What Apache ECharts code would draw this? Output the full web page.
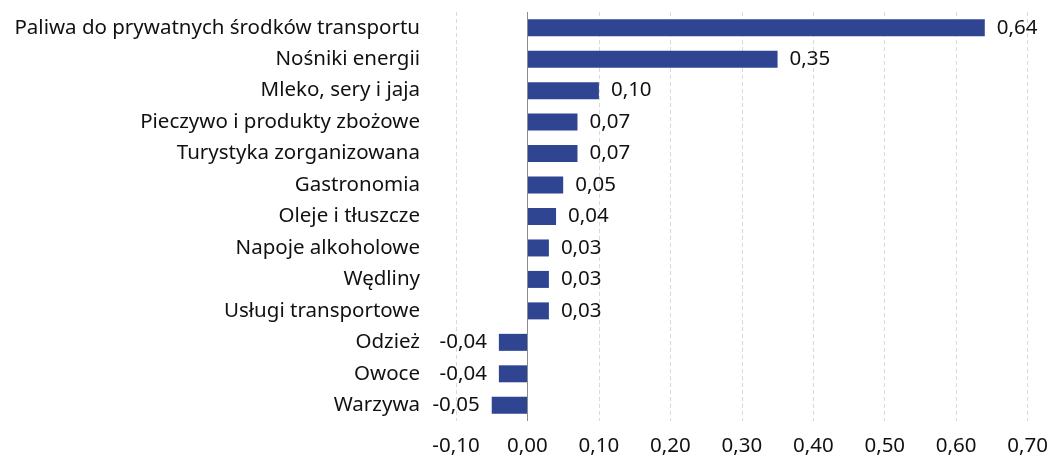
<!DOCTYPE html>
<html>
<head>
<meta charset="utf-8">
<script src="https://cdn.jsdelivr.net/npm/echarts@6/dist/echarts.min.js"></script>
<style>
html,body{margin:0;padding:0;background:#fff;}
#chart{width:1051px;height:457px;}
</style>
</head>
<body>
<div id="chart"></div>
<script>
const categories = [
  'Paliwa do prywatnych środków transportu',
  'Nośniki energii',
  'Mleko, sery i jaja',
  'Pieczywo i produkty zbożowe',
  'Turystyka zorganizowana',
  'Gastronomia',
  'Oleje i tłuszcze',
  'Napoje alkoholowe',
  'Wędliny',
  'Usługi transportowe',
  'Odzież',
  'Owoce',
  'Warzywa'
];
const values = [0.64, 0.35, 0.10, 0.07, 0.07, 0.05, 0.04, 0.03, 0.03, 0.03, -0.04, -0.04, -0.05];
const xTicks = { min: -0.1, max: 0.7, interval: 0.1 };

const FONT = 'Noto Sans';
const FS = 20.5;
const fmt = v => v.toFixed(2).replace('.', ',');

const chart = echarts.init(document.getElementById('chart'));
chart.setOption({
  animation: false,
  grid: { left: 456, right: 21, top: 12, bottom: 36, containLabel: false },
  xAxis: {
    type: 'value',
    min: xTicks.min, max: xTicks.max, interval: xTicks.interval,
    axisLine: { show: false },
    axisTick: { show: false },
    splitLine: { show: true, lineStyle: { color: '#d9d9d9', type: [4, 3], width: 1 } },
    axisLabel: {
      formatter: v => fmt(v),
      fontFamily: FONT, fontSize: FS, color: '#111', margin: 15
    }
  },
  yAxis: {
    type: 'category',
    data: categories,
    inverse: true,
    axisLine: { show: false, onZero: false },
    axisTick: { show: false },
    splitLine: { show: false },
    axisLabel: { fontFamily: FONT, fontSize: FS, color: '#111', margin: 36 }
  },
  series: [{
    type: 'bar',
    data: values.map(v => ({
      value: v,
      label: { position: v < 0 ? 'left' : 'right' }
    })),
    barCategoryGap: '46%',
    itemStyle: { color: '#2f4592' },
    label: {
      show: true,
      distance: 12,
      formatter: p => fmt(p.value),
      fontFamily: FONT, fontSize: FS, color: '#111'
    },
    markLine: {
      silent: true,
      symbol: ['none', 'none'],
      label: { show: false },
      lineStyle: { color: '#8c8c8c', type: 'solid', width: 1 },
      data: [{ xAxis: 0 }]
    }
  }]
});
</script>
</body>
</html>
